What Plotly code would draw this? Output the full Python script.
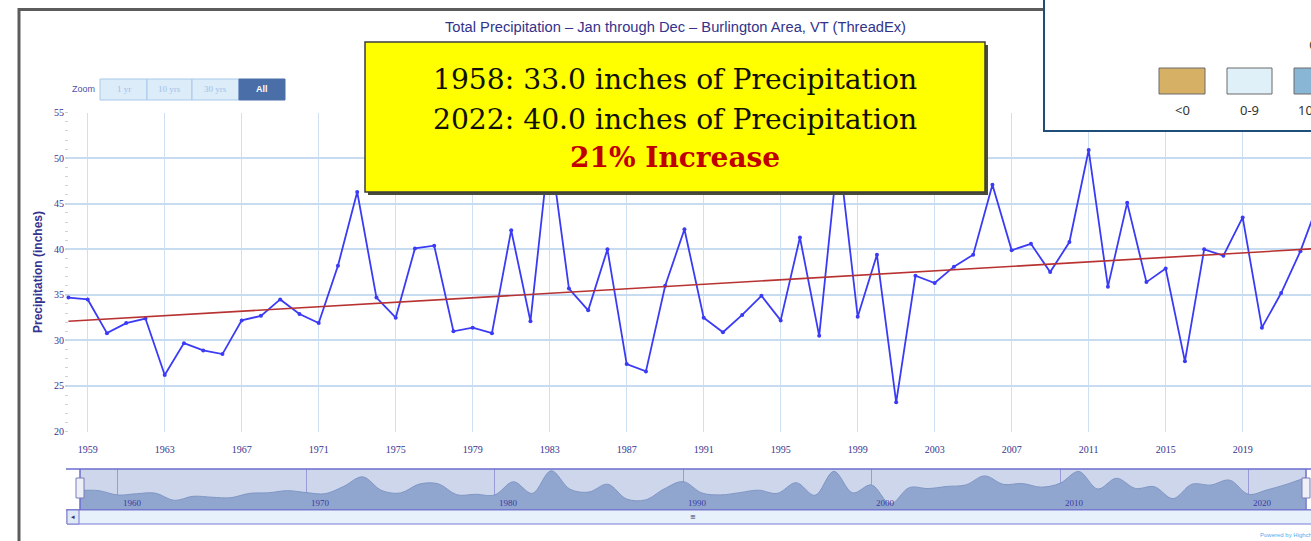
import plotly.graph_objects as go

W, H = 1311, 541

years = list(range(1958, 2024))
precip = [34.7, 34.5, 30.8, 31.9, 32.4, 26.2, 29.7, 28.9, 28.5, 32.2,
          32.7, 34.5, 32.9, 31.9, 38.2, 46.3, 34.7, 32.5, 40.1, 40.4,
          31.0, 31.4, 30.8, 42.1, 32.1, 51.5, 35.7, 33.3, 40.0, 27.4,
          26.6, 36.0, 42.2, 32.5, 30.9, 32.8, 34.9, 32.2, 41.3, 30.5,
          51.0, 32.6, 39.4, 23.2, 37.1, 36.3, 38.1, 39.4, 47.1, 39.9,
          40.6, 37.5, 40.8, 50.9, 35.9, 45.1, 36.4, 37.9, 27.7, 40.0,
          39.3, 43.5, 31.4, 35.2, 39.8, 45.5]
trend_years = [1958, 2023]
trend_vals = [32.1, 40.1]

x_ticks = [1959, 1963, 1967, 1971, 1975, 1979, 1983, 1987, 1991, 1995,
           1999, 2003, 2007, 2011, 2015, 2019, 2023]
y_ticks = [20, 25, 30, 35, 40, 45, 50, 55]
nav_ticks = [1960, 1970, 1980, 1990, 2000, 2010, 2020]

title_text = "Total Precipitation – Jan through Dec – Burlington Area, VT (ThreadEx)"
box_lines = ["1958: 33.0 inches of Precipitation",
             "2022: 40.0 inches of Precipitation"]
box_highlight = "21% Increase"
zoom_labels = ["1 yr", "10 yrs", "30 yrs", "All"]
legend_labels = ["<0", "0-9", "10"]
legend_colors = ["#d6b064", "#dff0f8", "#8ab6d6"]


def px(p):
    return p / W


def py(p):
    return 1 - p / H


NAVY = "#35358f"
BLUE = "#3b3bf5"

fig = go.Figure()

fig.add_trace(go.Scatter(x=years, y=precip, mode="lines+markers",
                         line=dict(color=BLUE, width=1.8),
                         marker=dict(color=BLUE, size=4),
                         xaxis="x", yaxis="y", showlegend=False))
fig.add_trace(go.Scatter(x=trend_years, y=trend_vals, mode="lines",
                         line=dict(color="#b83232", width=1.6),
                         xaxis="x", yaxis="y", showlegend=False))
fig.add_trace(go.Scatter(x=years, y=precip, mode="lines",
                         line=dict(color="#7f96c4", width=1, shape="spline", smoothing=1.0),
                         fill="tozeroy", fillcolor="#91a6cf",
                         xaxis="x2", yaxis="y2", showlegend=False))

fig.update_layout(
    width=W, height=H,
    margin=dict(l=0, r=0, t=0, b=0, autoexpand=False),
    paper_bgcolor="white",
    plot_bgcolor="rgba(0,0,0,0)",
    xaxis=dict(domain=[px(65), 1.0], range=[1957.82, 2022.55],
               tickmode="array", tickvals=x_ticks, ticktext=[str(t) for t in x_ticks],
               showgrid=True, gridcolor="#cfe0f2", gridwidth=1,
               zeroline=False, showline=False,
               ticks="outside", ticklen=8, tickcolor="rgba(0,0,0,0)",
               tickfont=dict(family="Liberation Serif", size=10, color=NAVY),
               automargin=False, anchor="y"),
    yaxis=dict(domain=[py(431.5), py(112.7)], range=[20, 55],
               tickmode="array", tickvals=y_ticks,
               showgrid=True, gridcolor="#c7dcf1", gridwidth=1.5,
               zeroline=False, showline=False, ticks="",
               tickfont=dict(family="Liberation Serif", size=10, color=NAVY),
               minor=dict(dtick=1, ticks="inside", ticklen=3, tickcolor="#d0d0d8", showgrid=False),
               automargin=False, anchor="x"),
    xaxis2=dict(domain=[px(80), px(1305)], range=[1958, 2023],
                tickmode="array", tickvals=nav_ticks,
                showgrid=True, gridcolor="#9a9ad8", gridwidth=1,
                zeroline=False, showline=False, ticks="", showticklabels=False,
                automargin=False, anchor="y2"),
    yaxis2=dict(domain=[py(510), py(469)], range=[18, 53],
                showgrid=False, zeroline=False, showticklabels=False, ticks="",
                automargin=False, anchor="x2"),
)

shapes = []
shapes.append(dict(type="rect", xref="paper", yref="paper",
                   x0=px(19), x1=px(1340), y0=py(570), y1=py(9.5),
                   line=dict(color="#5c5c5c", width=3), fillcolor="rgba(0,0,0,0)", layer="below"))
shapes.append(dict(type="rect", xref="paper", yref="paper",
                   x0=px(80), x1=px(1306), y0=py(510), y1=py(469),
                   line=dict(width=0), fillcolor="#cdd6ea", layer="below"))
for yy in (469, 510):
    shapes.append(dict(type="line", xref="paper", yref="paper",
                       x0=px(66), x1=px(1330), y0=py(yy), y1=py(yy),
                       line=dict(color="#6b6bcf", width=1.5)))
for xx in (80, 1306):
    shapes.append(dict(type="line", xref="paper", yref="paper",
                       x0=px(xx), x1=px(xx), y0=py(510), y1=py(469),
                       line=dict(color="#6b6bcf", width=1.5)))
shapes.append(dict(type="rect", xref="paper", yref="paper",
                   x0=px(67), x1=px(1330), y0=py(524), y1=py(510),
                   line=dict(color="#7b7bd0", width=1), fillcolor="#e6f1fb"))
shapes.append(dict(type="rect", xref="paper", yref="paper",
                   x0=px(67), x1=px(79), y0=py(524), y1=py(510),
                   line=dict(color="#7b7bd0", width=1), fillcolor="#dfe9f6"))
for hx in (80, 1306):
    shapes.append(dict(type="rect", xref="paper", yref="paper",
                       x0=px(hx - 4), x1=px(hx + 4), y0=py(498), y1=py(478),
                       line=dict(color="#7a7ab8", width=1), fillcolor="#eef0f8"))
btn_x = [100, 147, 192, 239, 285]
for i, lab in enumerate(zoom_labels):
    sel = (lab == "All")
    shapes.append(dict(type="rect", xref="paper", yref="paper",
                       x0=px(btn_x[i]), x1=px(btn_x[i + 1]), y0=py(100), y1=py(79),
                       line=dict(color="#a9c9ea" if not sel else "#4a6ea8", width=1),
                       fillcolor="#dcecf9" if not sel else "#4a6ea8"))
shapes.append(dict(type="rect", xref="paper", yref="paper",
                   x0=px(368), x1=px(988), y0=py(195), y1=py(45),
                   line=dict(width=0), fillcolor="#4a4a3a"))
shapes.append(dict(type="rect", xref="paper", yref="paper",
                   x0=px(365), x1=px(985), y0=py(192), y1=py(42),
                   line=dict(color="#3c3c3c", width=1.5), fillcolor="#ffff00"))
shapes.append(dict(type="rect", xref="paper", yref="paper",
                   x0=px(1044), x1=px(1340), y0=py(131), y1=py(-20),
                   line=dict(color="#1f4e79", width=2), fillcolor="white"))
sw_x = [(1159, 1205), (1227, 1272), (1294, 1340)]
for (a, b), c in zip(sw_x, legend_colors):
    shapes.append(dict(type="rect", xref="paper", yref="paper",
                       x0=px(a), x1=px(b), y0=py(94), y1=py(68),
                       line=dict(color="#6b6b6b", width=1), fillcolor=c))

ann = []


def add_text(x, y, text, font, xanchor="center", yanchor="middle", xref="paper", **kw):
    ann.append(dict(x=px(x) if xref == "paper" else x, y=py(y), xref=xref, yref="paper", text=text,
                    xanchor=xanchor, yanchor=yanchor, showarrow=False, font=font, **kw))


add_text(675, 27, title_text, dict(family="Liberation Sans", size=14.7, color="#33338a"))
add_text(38, 272, "<b>Precipitation (inches)</b>",
         dict(family="Liberation Sans", size=12, color="#333390"), textangle=-90)
add_text(97, 89.5, "Zoom", dict(family="Liberation Sans", size=9, color="#5050a8"), xanchor="right")
for i, lab in enumerate(zoom_labels):
    sel = (lab == "All")
    add_text((btn_x[i] + btn_x[i + 1]) / 2, 89.5, ("<b>%s</b>" % lab) if sel else lab,
             dict(family="Liberation Sans" if sel else "Liberation Serif", size=9,
                  color="white" if sel else "#9cc3ea"))
for i, line in enumerate(box_lines):
    add_text(675, 80 + 39 * i, line, dict(family="DejaVu Serif", size=28.2, color="#111100"))
add_text(675, 158, "<b>%s</b>" % box_highlight, dict(family="DejaVu Serif", size=28, color="#c00000"))
for (a, b), lab in zip(sw_x, legend_labels):
    if b < 1311:
        add_text((a + b) / 2, 110, lab, dict(family="Noto Sans", size=13, color="#333333"))
    else:
        add_text(1296, 110, lab, dict(family="Noto Sans", size=13, color="#333333"), xanchor="left")
add_text(1307, 45, "C", dict(family="Noto Sans", size=14, color="#444444"), xanchor="left")
add_text(1258, 535, "Powered by Highcharts", dict(family="Liberation Sans", size=6, color="#55aaee"),
         xanchor="left")
add_text(73, 517, "◂", dict(family="DejaVu Sans", size=7, color="#333366"))
add_text(693, 517, "≡", dict(family="DejaVu Sans", size=7, color="#333366"))
for t in nav_ticks:
    add_text(t + 0.15, 503, str(t), dict(family="Liberation Serif", size=9, color="#3a3aa0"),
             xanchor="left", xref="x2")

fig.update_layout(shapes=shapes, annotations=ann)
fig.write_html("out.html", config={"displayModeBar": False},
               post_script="document.body.style.margin='0';document.body.style.overflow='hidden';")
